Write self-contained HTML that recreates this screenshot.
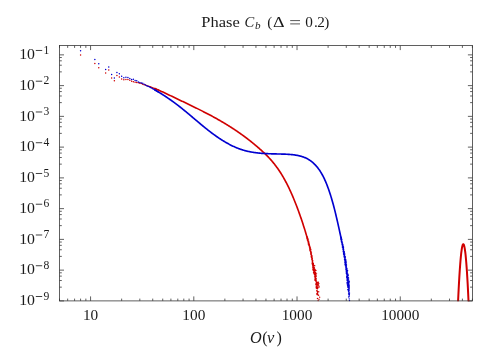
<!DOCTYPE html>
<html><head><meta charset="utf-8"><title>Phase Cb</title>
<style>html,body{margin:0;padding:0;background:#fff}svg{display:block;will-change:transform}text{font-family:"Liberation Serif",serif;fill:#1a1a1a}</style></head><body>
<svg width="500" height="350" viewBox="0 0 500 350">
<rect width="500" height="350" fill="#fff"/>
<path d="M59.50 300.9v-2.3M59.50 45.6v2.3M67.67 300.9v-2.3M67.67 45.6v2.3M74.58 300.9v-2.3M74.58 45.6v2.3M80.57 300.9v-2.3M80.57 45.6v2.3M85.85 300.9v-2.3M85.85 45.6v2.3M90.57 300.9v-4.5M90.57 45.6v4.5M121.65 300.9v-2.3M121.65 45.6v2.3M139.82 300.9v-2.3M139.82 45.6v2.3M152.72 300.9v-2.3M152.72 45.6v2.3M162.72 300.9v-2.3M162.72 45.6v2.3M170.90 300.9v-2.3M170.90 45.6v2.3M177.81 300.9v-2.3M177.81 45.6v2.3M183.80 300.9v-2.3M183.80 45.6v2.3M189.08 300.9v-2.3M189.08 45.6v2.3M193.80 300.9v-4.5M193.80 45.6v4.5M224.87 300.9v-2.3M224.87 45.6v2.3M243.05 300.9v-2.3M243.05 45.6v2.3M255.95 300.9v-2.3M255.95 45.6v2.3M265.95 300.9v-2.3M265.95 45.6v2.3M274.12 300.9v-2.3M274.12 45.6v2.3M281.03 300.9v-2.3M281.03 45.6v2.3M287.02 300.9v-2.3M287.02 45.6v2.3M292.30 300.9v-2.3M292.30 45.6v2.3M297.02 300.9v-4.5M297.02 45.6v4.5M328.10 300.9v-2.3M328.10 45.6v2.3M346.27 300.9v-2.3M346.27 45.6v2.3M359.17 300.9v-2.3M359.17 45.6v2.3M369.17 300.9v-2.3M369.17 45.6v2.3M377.35 300.9v-2.3M377.35 45.6v2.3M384.26 300.9v-2.3M384.26 45.6v2.3M390.25 300.9v-2.3M390.25 45.6v2.3M395.53 300.9v-2.3M395.53 45.6v2.3M400.25 300.9v-4.5M400.25 45.6v4.5M431.32 300.9v-2.3M431.32 45.6v2.3M449.50 300.9v-2.3M449.50 45.6v2.3M462.40 300.9v-2.3M462.40 45.6v2.3M472.40 300.9v-2.3M472.40 45.6v2.3M59.5 300.90h4.5M472.4 300.90h-4.5M59.5 287.15h2.3M472.4 287.15h-2.3M59.5 280.52h2.3M472.4 280.52h-2.3M59.5 276.11h2.3M472.4 276.11h-2.3M59.5 272.80h2.3M472.4 272.80h-2.3M59.5 270.14h4.5M472.4 270.14h-4.5M59.5 256.39h2.3M472.4 256.39h-2.3M59.5 249.76h2.3M472.4 249.76h-2.3M59.5 245.35h2.3M472.4 245.35h-2.3M59.5 242.04h2.3M472.4 242.04h-2.3M59.5 239.39h4.5M472.4 239.39h-4.5M59.5 225.64h2.3M472.4 225.64h-2.3M59.5 219.01h2.3M472.4 219.01h-2.3M59.5 214.60h2.3M472.4 214.60h-2.3M59.5 211.29h2.3M472.4 211.29h-2.3M59.5 208.63h4.5M472.4 208.63h-4.5M59.5 194.88h2.3M472.4 194.88h-2.3M59.5 188.25h2.3M472.4 188.25h-2.3M59.5 183.84h2.3M472.4 183.84h-2.3M59.5 180.53h2.3M472.4 180.53h-2.3M59.5 177.88h4.5M472.4 177.88h-4.5M59.5 164.13h2.3M472.4 164.13h-2.3M59.5 157.50h2.3M472.4 157.50h-2.3M59.5 153.08h2.3M472.4 153.08h-2.3M59.5 149.77h2.3M472.4 149.77h-2.3M59.5 147.12h4.5M472.4 147.12h-4.5M59.5 133.37h2.3M472.4 133.37h-2.3M59.5 126.74h2.3M472.4 126.74h-2.3M59.5 122.33h2.3M472.4 122.33h-2.3M59.5 119.02h2.3M472.4 119.02h-2.3M59.5 116.37h4.5M472.4 116.37h-4.5M59.5 102.62h2.3M472.4 102.62h-2.3M59.5 95.99h2.3M472.4 95.99h-2.3M59.5 91.57h2.3M472.4 91.57h-2.3M59.5 88.26h2.3M472.4 88.26h-2.3M59.5 85.61h4.5M472.4 85.61h-4.5M59.5 71.86h2.3M472.4 71.86h-2.3M59.5 65.23h2.3M472.4 65.23h-2.3M59.5 60.82h2.3M472.4 60.82h-2.3M59.5 57.51h2.3M472.4 57.51h-2.3M59.5 54.86h4.5M472.4 54.86h-4.5" stroke="#333" stroke-width="0.78" fill="none"/>
<clipPath id="cp"><rect x="59.5" y="45.6" width="412.90" height="255.70"/></clipPath>
<g>
<path d="M80.57 54.90h0M94.85 63.40h0M98.75 67.80h0M105.66 73.00h0M108.75 70.10h0M111.64 78.10h0M114.36 80.80h0M116.92 75.50h0M119.35 77.00h0M121.65 78.90h0M123.83 79.70h0M125.92 79.50h0M127.91 79.50h0M129.82 80.30h0M131.65 81.30h0M133.41 81.65h0M135.10 82.19h0M136.73 82.41h0M138.30 82.68h0M139.82 83.25h0M141.29 83.59h0M142.72 84.22h0M144.10 84.83h0M145.44 85.01h0M146.74 85.44h0M148.00 85.98h0M149.23 86.40h0M150.42 86.83h0M151.59 87.21h0M152.72 87.70h0M153.83 88.17h0M154.91 88.54h0M155.96 89.01h0M156.99 89.42h0M158.00 89.87h0" stroke="#d00000" stroke-width="1.5" stroke-linecap="round" fill="none"/>
<path d="M154.91 88.58 L155.41 88.79 L155.91 89.00 L156.41 89.21 L156.91 89.42 L157.41 89.64 L157.91 89.85 L158.41 90.07 L158.91 90.29 L159.41 90.51 L159.91 90.73 L160.41 90.95 L160.91 91.18 L161.41 91.40 L161.91 91.63 L162.41 91.86 L162.91 92.09 L163.41 92.32 L163.91 92.55 L164.41 92.78 L164.91 93.02 L165.41 93.25 L165.91 93.48 L166.41 93.72 L166.91 93.96 L167.41 94.19 L167.91 94.43 L168.41 94.67 L168.91 94.91 L169.41 95.15 L169.91 95.39 L170.41 95.63 L170.91 95.87 L171.41 96.11 L171.91 96.35 L172.41 96.59 L172.91 96.83 L173.41 97.07 L173.91 97.31 L174.41 97.55 L174.91 97.79 L175.41 98.03 L175.91 98.27 L176.41 98.51 L176.91 98.75 L177.41 98.99 L177.91 99.23 L178.41 99.46 L178.91 99.70 L179.41 99.94 L179.91 100.18 L180.41 100.42 L180.91 100.66 L181.41 100.90 L181.91 101.14 L182.41 101.38 L182.91 101.61 L183.41 101.85 L183.91 102.09 L184.41 102.33 L184.91 102.57 L185.41 102.81 L185.91 103.05 L186.41 103.29 L186.91 103.53 L187.41 103.77 L187.91 104.01 L188.41 104.25 L188.91 104.49 L189.41 104.73 L189.91 104.97 L190.41 105.21 L190.91 105.45 L191.41 105.70 L191.91 105.94 L192.41 106.18 L192.91 106.42 L193.41 106.67 L193.91 106.91 L194.41 107.16 L194.91 107.40 L195.41 107.65 L195.91 107.89 L196.41 108.14 L196.91 108.38 L197.41 108.63 L197.91 108.88 L198.41 109.13 L198.91 109.38 L199.41 109.63 L199.91 109.88 L200.41 110.13 L200.91 110.38 L201.41 110.63 L201.91 110.88 L202.41 111.13 L202.91 111.39 L203.41 111.64 L203.91 111.90 L204.41 112.15 L204.91 112.41 L205.41 112.67 L205.91 112.93 L206.41 113.19 L206.91 113.45 L207.41 113.71 L207.91 113.97 L208.41 114.23 L208.91 114.49 L209.41 114.76 L209.91 115.02 L210.41 115.29 L210.91 115.56 L211.41 115.83 L211.91 116.09 L212.41 116.36 L212.91 116.64 L213.41 116.91 L213.91 117.18 L214.41 117.46 L214.91 117.73 L215.41 118.01 L215.91 118.29 L216.41 118.56 L216.91 118.84 L217.41 119.13 L217.91 119.41 L218.41 119.69 L218.91 119.98 L219.41 120.26 L219.91 120.55 L220.41 120.84 L220.91 121.13 L221.41 121.42 L221.91 121.71 L222.41 122.01 L222.91 122.30 L223.41 122.60 L223.91 122.90 L224.41 123.20 L224.91 123.50 L225.41 123.80 L225.91 124.10 L226.41 124.41 L226.91 124.71 L227.41 125.02 L227.91 125.33 L228.41 125.64 L228.91 125.96 L229.41 126.27 L229.91 126.59 L230.41 126.90 L230.91 127.22 L231.41 127.54 L231.91 127.87 L232.41 128.19 L232.91 128.52 L233.41 128.84 L233.91 129.17 L234.41 129.50 L234.91 129.84 L235.41 130.17 L235.91 130.51 L236.41 130.85 L236.91 131.18 L237.41 131.53 L237.91 131.87 L238.41 132.22 L238.91 132.56 L239.41 132.91 L239.91 133.26 L240.41 133.62 L240.91 133.97 L241.41 134.33 L241.91 134.69 L242.41 135.05 L242.91 135.41 L243.41 135.78 L243.91 136.14 L244.41 136.51 L244.91 136.88 L245.41 137.26 L245.91 137.63 L246.41 138.01 L246.91 138.39 L247.41 138.77 L247.91 139.16 L248.41 139.54 L248.91 139.93 L249.41 140.32 L249.91 140.71 L250.41 141.11 L250.91 141.51 L251.41 141.91 L251.91 142.31 L252.41 142.71 L252.91 143.12 L253.41 143.53 L253.91 143.94 L254.41 144.35 L254.91 144.77 L255.41 145.19 L255.91 145.61 L256.41 146.03 L256.91 146.46 L257.41 146.89 L257.91 147.32 L258.41 147.75 L258.91 148.19 L259.41 148.63 L259.91 149.07 L260.41 149.51 L260.91 149.96 L261.41 150.41 L261.91 150.86 L262.41 151.32 L262.91 151.78 L263.41 152.25 L263.91 152.72 L264.41 153.19 L264.91 153.67 L265.41 154.15 L265.91 154.64 L266.41 155.14 L266.91 155.64 L267.41 156.15 L267.91 156.67 L268.41 157.19 L268.91 157.72 L269.41 158.26 L269.91 158.80 L270.41 159.35 L270.91 159.91 L271.41 160.48 L271.91 161.06 L272.41 161.65 L272.91 162.25 L273.41 162.85 L273.91 163.47 L274.41 164.10 L274.91 164.74 L275.41 165.39 L275.91 166.05 L276.41 166.72 L276.91 167.40 L277.41 168.09 L277.91 168.80 L278.41 169.52 L278.91 170.25 L279.41 171.00 L279.91 171.76 L280.41 172.53 L280.91 173.31 L281.41 174.11 L281.91 174.93 L282.41 175.76 L282.91 176.60 L283.41 177.46 L283.91 178.34 L284.41 179.23 L284.91 180.13 L285.41 181.06 L285.91 181.99 L286.41 182.95 L286.91 183.92 L287.41 184.91 L287.91 185.91 L288.41 186.93 L288.91 187.96 L289.41 189.02 L289.91 190.08 L290.41 191.17 L290.91 192.27 L291.41 193.39 L291.91 194.52 L292.41 195.68 L292.91 196.84 L293.41 198.03 L293.91 199.23 L294.41 200.45 L294.91 201.69 L295.41 202.94 L295.91 204.21 L296.41 205.50 L296.91 206.81 L297.41 208.13 L297.91 209.47 L298.41 210.83 L298.91 212.20 L299.41 213.60 L299.91 215.01 L300.41 216.43 L300.91 217.88 L301.41 219.34 L301.91 220.83 L302.41 222.33 L302.91 223.84 L303.41 225.38 L303.91 226.94 L304.41 228.52 L304.91 230.13 L305.41 231.76 L305.91 233.43 L306.41 235.14 L306.91 236.88 L307.41 238.67" stroke="#d00000" stroke-width="1.65" stroke-linecap="round" stroke-linejoin="round" fill="none"/>
<path d="M457.80 307.41 L457.94 304.25 L458.08 301.17 L458.22 298.18 L458.36 295.26 L458.50 292.42 L458.64 289.67 L458.77 286.99 L458.91 284.40 L459.05 281.89 L459.19 279.46 L459.33 277.11 L459.47 274.84 L459.61 272.65 L459.75 270.54 L459.89 268.52 L460.03 266.57 L460.17 264.71 L460.31 262.93 L460.45 261.23 L460.58 259.61 L460.72 258.07 L460.86 256.61 L461.00 255.23 L461.14 253.93 L461.28 252.72 L461.42 251.58 L461.56 250.53 L461.70 249.56 L461.84 248.67 L461.98 247.86 L462.12 247.13 L462.26 246.48 L462.39 245.91 L462.53 245.43 L462.67 245.02 L462.81 244.70 L462.95 244.45 L463.09 244.29 L463.23 244.21 L463.37 244.21 L463.51 244.29 L463.65 244.45 L463.79 244.70 L463.93 245.02 L464.07 245.43 L464.21 245.91 L464.34 246.48 L464.48 247.13 L464.62 247.86 L464.76 248.67 L464.90 249.56 L465.04 250.53 L465.18 251.58 L465.32 252.72 L465.46 253.93 L465.60 255.23 L465.74 256.61 L465.88 258.07 L466.02 259.61 L466.15 261.23 L466.29 262.93 L466.43 264.71 L466.57 266.57 L466.71 268.52 L466.85 270.54 L466.99 272.65 L467.13 274.84 L467.27 277.11 L467.41 279.46 L467.55 281.89 L467.69 284.40 L467.83 286.99 L467.96 289.67 L468.10 292.42 L468.24 295.26 L468.38 298.18 L468.52 301.17 L468.66 304.25 L468.80 307.41" stroke="#d00000" stroke-width="2.0" stroke-linecap="butt" stroke-linejoin="round" fill="none" clip-path="url(#cp)"/>
<path d="M80.57 50.70h0M94.85 59.50h0M98.75 63.80h0M105.66 69.60h0M108.75 66.90h0M111.64 74.40h0M114.36 77.90h0M116.92 72.60h0M119.35 73.80h0M121.65 76.20h0M123.83 77.80h0M125.92 77.30h0M127.91 77.60h0M129.82 78.40h0M131.65 79.50h0M133.41 79.21h0M135.10 80.56h0M136.73 80.87h0M138.30 81.97h0M139.82 82.56h0M141.29 83.12h0M142.72 83.37h0M144.10 84.34h0M145.44 85.03h0M146.74 85.67h0M148.00 86.16h0M149.23 86.87h0M150.42 87.46h0M151.59 88.10h0M152.72 88.79h0M153.83 89.33h0M154.91 89.96h0M155.96 90.58h0M156.99 91.14h0M158.00 91.75h0" stroke="#0000d0" stroke-width="1.5" stroke-linecap="round" fill="none"/>
<path d="M154.91 89.96 L155.41 90.24 L155.91 90.53 L156.41 90.82 L156.91 91.11 L157.41 91.40 L157.91 91.69 L158.41 91.99 L158.91 92.29 L159.41 92.59 L159.91 92.90 L160.41 93.20 L160.91 93.51 L161.41 93.82 L161.91 94.13 L162.41 94.45 L162.91 94.77 L163.41 95.09 L163.91 95.41 L164.41 95.73 L164.91 96.06 L165.41 96.39 L165.91 96.72 L166.41 97.05 L166.91 97.39 L167.41 97.73 L167.91 98.07 L168.41 98.41 L168.91 98.75 L169.41 99.10 L169.91 99.45 L170.41 99.80 L170.91 100.15 L171.41 100.51 L171.91 100.86 L172.41 101.22 L172.91 101.59 L173.41 101.95 L173.91 102.32 L174.41 102.68 L174.91 103.05 L175.41 103.43 L175.91 103.80 L176.41 104.18 L176.91 104.56 L177.41 104.94 L177.91 105.32 L178.41 105.71 L178.91 106.10 L179.41 106.49 L179.91 106.88 L180.41 107.27 L180.91 107.67 L181.41 108.07 L181.91 108.47 L182.41 108.87 L182.91 109.27 L183.41 109.68 L183.91 110.09 L184.41 110.49 L184.91 110.90 L185.41 111.32 L185.91 111.73 L186.41 112.14 L186.91 112.56 L187.41 112.97 L187.91 113.39 L188.41 113.81 L188.91 114.23 L189.41 114.65 L189.91 115.07 L190.41 115.49 L190.91 115.91 L191.41 116.33 L191.91 116.75 L192.41 117.18 L192.91 117.60 L193.41 118.02 L193.91 118.44 L194.41 118.87 L194.91 119.29 L195.41 119.71 L195.91 120.14 L196.41 120.56 L196.91 120.98 L197.41 121.40 L197.91 121.82 L198.41 122.24 L198.91 122.66 L199.41 123.08 L199.91 123.50 L200.41 123.92 L200.91 124.33 L201.41 124.75 L201.91 125.16 L202.41 125.58 L202.91 125.99 L203.41 126.40 L203.91 126.81 L204.41 127.22 L204.91 127.62 L205.41 128.03 L205.91 128.43 L206.41 128.83 L206.91 129.23 L207.41 129.62 L207.91 130.02 L208.41 130.41 L208.91 130.80 L209.41 131.19 L209.91 131.58 L210.41 131.96 L210.91 132.34 L211.41 132.72 L211.91 133.09 L212.41 133.47 L212.91 133.84 L213.41 134.21 L213.91 134.57 L214.41 134.93 L214.91 135.29 L215.41 135.65 L215.91 136.01 L216.41 136.36 L216.91 136.71 L217.41 137.05 L217.91 137.39 L218.41 137.73 L218.91 138.07 L219.41 138.41 L219.91 138.74 L220.41 139.06 L220.91 139.39 L221.41 139.71 L221.91 140.03 L222.41 140.34 L222.91 140.65 L223.41 140.96 L223.91 141.27 L224.41 141.57 L224.91 141.87 L225.41 142.16 L225.91 142.45 L226.41 142.74 L226.91 143.02 L227.41 143.30 L227.91 143.58 L228.41 143.85 L228.91 144.12 L229.41 144.39 L229.91 144.65 L230.41 144.91 L230.91 145.16 L231.41 145.41 L231.91 145.66 L232.41 145.90 L232.91 146.14 L233.41 146.38 L233.91 146.61 L234.41 146.83 L234.91 147.06 L235.41 147.27 L235.91 147.49 L236.41 147.70 L236.91 147.90 L237.41 148.10 L237.91 148.30 L238.41 148.49 L238.91 148.68 L239.41 148.87 L239.91 149.05 L240.41 149.22 L240.91 149.39 L241.41 149.56 L241.91 149.72 L242.41 149.88 L242.91 150.03 L243.41 150.18 L243.91 150.32 L244.41 150.46 L244.91 150.60 L245.41 150.73 L245.91 150.86 L246.41 150.99 L246.91 151.11 L247.41 151.23 L247.91 151.34 L248.41 151.46 L248.91 151.56 L249.41 151.67 L249.91 151.77 L250.41 151.87 L250.91 151.96 L251.41 152.05 L251.91 152.14 L252.41 152.22 L252.91 152.31 L253.41 152.39 L253.91 152.46 L254.41 152.54 L254.91 152.61 L255.41 152.67 L255.91 152.74 L256.41 152.80 L256.91 152.86 L257.41 152.92 L257.91 152.98 L258.41 153.03 L258.91 153.08 L259.41 153.13 L259.91 153.18 L260.41 153.22 L260.91 153.27 L261.41 153.31 L261.91 153.35 L262.41 153.38 L262.91 153.42 L263.41 153.45 L263.91 153.48 L264.41 153.51 L264.91 153.54 L265.41 153.57 L265.91 153.60 L266.41 153.62 L266.91 153.65 L267.41 153.67 L267.91 153.69 L268.41 153.71 L268.91 153.73 L269.41 153.75 L269.91 153.76 L270.41 153.78 L270.91 153.80 L271.41 153.81 L271.91 153.83 L272.41 153.84 L272.91 153.85 L273.41 153.87 L273.91 153.88 L274.41 153.89 L274.91 153.90 L275.41 153.91 L275.91 153.93 L276.41 153.94 L276.91 153.95 L277.41 153.96 L277.91 153.97 L278.41 153.98 L278.91 153.99 L279.41 154.01 L279.91 154.02 L280.41 154.03 L280.91 154.04 L281.41 154.06 L281.91 154.07 L282.41 154.09 L282.91 154.10 L283.41 154.12 L283.91 154.14 L284.41 154.15 L284.91 154.17 L285.41 154.19 L285.91 154.21 L286.41 154.24 L286.91 154.26 L287.41 154.29 L287.91 154.31 L288.41 154.34 L288.91 154.37 L289.41 154.41 L289.91 154.45 L290.41 154.48 L290.91 154.53 L291.41 154.57 L291.91 154.62 L292.41 154.67 L292.91 154.73 L293.41 154.79 L293.91 154.85 L294.41 154.92 L294.91 154.99 L295.41 155.07 L295.91 155.15 L296.41 155.23 L296.91 155.32 L297.41 155.42 L297.91 155.52 L298.41 155.62 L298.91 155.74 L299.41 155.85 L299.91 155.98 L300.41 156.11 L300.91 156.24 L301.41 156.39 L301.91 156.54 L302.41 156.70 L302.91 156.86 L303.41 157.04 L303.91 157.23 L304.41 157.42 L304.91 157.63 L305.41 157.84 L305.91 158.07 L306.41 158.31 L306.91 158.56 L307.41 158.82 L307.91 159.09 L308.41 159.38 L308.91 159.69 L309.41 160.00 L309.91 160.33 L310.41 160.68 L310.91 161.04 L311.41 161.42 L311.91 161.82 L312.41 162.23 L312.91 162.66 L313.41 163.10 L313.91 163.57 L314.41 164.05 L314.91 164.55 L315.41 165.08 L315.91 165.62 L316.41 166.18 L316.91 166.77 L317.41 167.38 L317.91 168.02 L318.41 168.68 L318.91 169.37 L319.41 170.08 L319.91 170.82 L320.41 171.60 L320.91 172.40 L321.41 173.23 L321.91 174.10 L322.41 175.00 L322.91 175.94 L323.41 176.91 L323.91 177.92 L324.41 178.96 L324.91 180.05 L325.41 181.17 L325.91 182.34 L326.41 183.54 L326.91 184.79 L327.41 186.08 L327.91 187.42 L328.41 188.80 L328.91 190.22 L329.41 191.69 L329.91 193.20 L330.41 194.76 L330.91 196.37 L331.41 198.02 L331.91 199.71 L332.41 201.46 L332.91 203.25 L333.41 205.08 L333.91 206.97 L334.41 208.90 L334.91 210.88 L335.41 212.91 L335.91 214.98 L336.41 217.09 L336.91 219.25 L337.41 221.43 L337.91 223.65 L338.41 225.89 L338.91 228.15 L339.41 230.43 L339.91 232.72 L340.41 235.03 L340.91 237.37 L341.41 239.75" stroke="#0000d0" stroke-width="1.65" stroke-linecap="round" stroke-linejoin="round" fill="none"/>
<path d="M307.21 237.99h0M307.24 238.13h0M307.28 236.95h0M307.31 238.42h0M307.35 240.08h0M307.38 237.60h0M307.42 239.18h0M307.46 239.40h0M307.49 239.52h0M307.53 238.53h0M307.56 238.83h0M307.60 238.35h0M307.63 239.32h0M307.67 240.59h0M307.70 239.06h0M307.74 238.16h0M307.77 239.92h0M307.81 240.73h0M307.84 239.94h0M307.88 241.72h0M307.92 240.25h0M307.95 240.54h0M307.99 239.79h0M308.02 240.51h0M308.06 241.63h0M308.09 241.78h0M308.13 242.26h0M308.16 241.97h0M308.20 241.88h0M308.23 239.82h0M308.27 241.00h0M308.30 244.05h0M308.34 241.51h0M308.37 242.69h0M308.40 242.16h0M308.44 242.98h0M308.47 242.55h0M308.51 241.75h0M308.54 242.06h0M308.58 243.21h0M308.61 242.58h0M308.65 241.34h0M308.68 243.78h0M308.72 244.39h0M308.75 244.44h0M308.79 244.60h0M308.82 242.42h0M308.85 245.55h0M308.89 243.95h0M308.92 243.37h0M308.96 243.95h0M308.99 243.82h0M309.03 243.45h0M309.06 244.75h0M309.09 245.06h0M309.13 244.84h0M309.16 245.33h0M309.20 245.14h0M309.23 244.73h0M309.27 245.01h0M309.30 246.23h0M309.33 244.43h0M309.37 245.46h0M309.40 247.09h0M309.44 246.50h0M309.47 247.06h0M309.50 246.54h0M309.54 245.48h0M309.57 246.41h0M309.61 247.08h0M309.64 246.68h0M309.67 247.06h0M309.71 247.57h0M309.74 248.47h0M309.77 247.17h0M309.81 249.07h0M309.84 247.94h0M309.88 249.17h0M309.91 249.48h0M309.94 250.34h0M309.98 249.71h0M310.01 249.87h0M310.04 250.76h0M310.08 247.06h0M310.11 248.02h0M310.14 250.43h0M310.18 246.94h0M310.21 249.75h0M310.24 249.89h0M310.28 248.08h0M310.31 248.90h0M310.34 250.92h0M310.38 250.94h0M310.41 249.73h0M310.44 249.58h0M310.48 249.86h0M310.51 251.47h0M310.54 249.35h0M310.58 251.21h0M310.61 249.55h0M310.64 252.62h0M310.68 251.89h0M310.71 253.50h0M310.74 249.10h0M310.78 249.56h0M310.81 251.46h0M310.84 254.41h0M310.87 251.09h0M310.91 254.46h0M310.94 253.11h0M310.97 253.26h0M311.01 254.15h0M311.04 252.03h0M311.07 252.71h0M311.10 252.01h0M311.14 254.01h0M311.17 256.72h0M311.20 253.68h0M311.23 255.10h0M311.27 255.08h0M311.30 255.00h0M311.33 254.64h0M311.37 257.04h0M311.40 255.39h0M311.43 254.72h0M311.46 252.93h0M311.50 257.45h0M311.53 257.18h0M311.56 256.65h0M311.59 256.16h0M311.62 259.11h0M311.66 256.77h0M311.69 256.01h0M311.72 258.07h0M311.75 256.86h0M311.79 257.51h0M311.82 257.16h0M311.85 257.64h0M311.88 255.49h0M311.92 256.94h0M311.95 257.28h0M311.98 256.42h0M312.01 258.47h0M312.04 259.57h0M312.08 257.66h0M312.11 263.28h0M312.14 259.49h0M312.17 260.66h0M312.20 258.25h0M312.24 258.82h0M312.27 263.59h0M312.30 261.99h0M312.33 260.79h0M312.36 258.78h0M312.40 264.48h0M312.43 259.99h0M312.46 261.06h0M312.49 261.87h0M312.52 263.10h0M312.55 262.64h0M312.59 262.78h0M312.62 267.02h0M312.65 263.52h0M312.68 264.44h0M312.71 260.88h0M312.74 265.57h0M312.78 260.63h0M312.81 263.05h0M312.84 269.66h0M312.87 263.25h0M312.90 265.06h0M312.93 262.83h0M312.96 263.03h0M313.00 268.25h0M313.03 264.97h0M313.06 265.96h0M313.09 265.69h0M313.12 263.31h0M313.15 266.45h0M313.18 269.50h0M313.21 265.43h0M313.25 268.47h0M313.28 270.23h0M313.31 264.94h0M313.34 270.11h0M313.37 263.58h0M313.40 270.01h0M313.43 267.72h0M313.46 266.01h0M313.50 268.62h0M313.53 267.58h0M313.56 265.08h0M313.59 272.17h0M313.62 272.60h0M313.65 267.18h0M313.68 268.89h0M313.71 268.84h0M313.74 269.62h0M313.77 267.10h0M313.80 273.17h0M313.84 270.92h0M313.87 268.37h0M313.90 269.78h0M313.93 269.19h0M313.96 270.88h0M313.99 273.32h0M314.02 273.52h0M314.05 268.85h0M314.08 272.24h0M314.11 269.61h0M314.14 267.37h0M314.17 269.35h0M314.20 272.46h0M314.23 268.28h0M314.26 270.70h0M314.30 274.17h0M314.33 271.01h0M314.36 271.03h0M314.39 270.49h0M314.42 267.99h0M314.45 272.70h0M314.48 273.71h0M314.51 274.08h0M314.54 270.85h0M314.57 271.04h0M314.60 276.64h0M314.63 271.42h0M314.66 273.43h0M314.69 265.76h0M314.72 271.38h0M314.75 271.48h0M314.78 270.21h0M314.81 279.63h0M314.84 273.99h0M314.87 269.25h0M314.90 275.43h0M314.93 275.35h0M314.96 275.56h0M314.99 280.18h0M315.05 273.59h0M315.08 274.24h0M315.11 276.21h0M315.14 278.59h0M315.17 277.51h0M315.20 274.30h0M315.26 275.15h0M315.29 277.16h0M315.32 277.54h0M315.35 275.28h0M315.38 270.26h0M315.41 278.24h0M315.44 276.33h0M315.47 274.48h0M315.50 276.13h0M315.53 273.90h0M315.56 278.92h0M315.59 276.93h0M315.62 272.56h0M315.65 279.72h0M315.68 280.39h0M315.77 281.04h0M315.79 273.81h0M315.82 284.19h0M315.91 283.85h0M315.94 270.44h0M316.03 278.31h0M316.06 279.52h0M316.12 287.82h0M316.15 280.53h0M316.18 278.84h0M316.21 283.51h0M316.23 286.20h0M316.26 282.00h0M316.29 284.88h0M316.32 284.29h0M316.35 284.34h0M316.38 275.90h0M316.41 282.93h0M316.47 281.96h0M316.53 273.87h0M316.55 288.23h0M316.58 281.65h0M316.61 288.07h0M316.64 284.23h0M316.67 288.20h0M316.73 286.94h0M316.79 283.31h0M316.82 290.53h0M316.87 286.35h0M316.90 293.51h0M316.93 294.43h0M316.99 286.49h0M317.07 283.40h0M317.10 284.94h0M317.16 291.55h0M317.19 286.54h0M317.22 288.03h0M317.25 284.54h0M317.27 290.94h0M317.36 285.20h0M317.39 288.67h0M317.42 292.15h0M317.44 287.42h0M317.47 298.49h0M317.56 293.29h0M317.59 291.41h0M317.62 293.08h0M317.67 282.51h0M317.73 288.35h0M317.76 294.67h0M317.78 291.36h0M318.04 284.22h0M318.15 300.60h0M318.40 282.20h0M318.51 284.94h0M318.57 295.30h0M318.79 291.85h0M318.87 283.35h0M318.90 287.32h0M318.98 299.15h0M319.04 286.26h0M319.64 297.13h0" stroke="#d00000" stroke-width="1.45" stroke-linecap="round" fill="none"/>
<path d="M341.03 238.21h0M341.05 237.88h0M341.07 237.51h0M341.08 237.22h0M341.10 237.76h0M341.12 238.32h0M341.13 239.01h0M341.15 238.81h0M341.17 239.12h0M341.18 239.69h0M341.20 239.08h0M341.22 237.63h0M341.23 238.70h0M341.25 237.87h0M341.27 239.16h0M341.28 237.73h0M341.30 239.16h0M341.32 239.39h0M341.33 239.86h0M341.35 239.44h0M341.37 241.74h0M341.39 239.24h0M341.40 240.39h0M341.42 239.38h0M341.43 239.04h0M341.45 239.55h0M341.47 238.79h0M341.48 240.25h0M341.50 238.65h0M341.52 240.98h0M341.53 240.29h0M341.55 240.99h0M341.57 239.49h0M341.58 241.88h0M341.60 241.71h0M341.62 241.59h0M341.63 240.70h0M341.65 241.61h0M341.67 240.93h0M341.68 242.17h0M341.70 239.59h0M341.72 241.26h0M341.73 242.52h0M341.75 242.15h0M341.77 242.28h0M341.78 242.27h0M341.80 241.79h0M341.82 240.87h0M341.83 242.24h0M341.85 241.49h0M341.87 241.71h0M341.88 241.93h0M341.90 242.11h0M341.92 241.31h0M341.93 242.92h0M341.95 242.55h0M341.96 243.53h0M341.98 244.46h0M342.00 243.33h0M342.01 242.80h0M342.03 241.52h0M342.05 242.82h0M342.06 243.13h0M342.08 243.30h0M342.10 243.15h0M342.11 242.68h0M342.13 244.15h0M342.15 243.50h0M342.16 244.46h0M342.18 242.82h0M342.19 243.91h0M342.21 244.86h0M342.23 244.95h0M342.24 242.75h0M342.26 243.83h0M342.28 243.65h0M342.29 245.29h0M342.31 244.59h0M342.33 243.61h0M342.34 244.31h0M342.36 243.92h0M342.37 244.54h0M342.39 244.15h0M342.41 244.89h0M342.42 246.00h0M342.44 247.19h0M342.46 245.76h0M342.47 246.94h0M342.49 243.05h0M342.50 245.87h0M342.52 246.03h0M342.54 245.82h0M342.55 245.34h0M342.57 243.11h0M342.59 244.49h0M342.60 245.43h0M342.62 246.15h0M342.63 244.86h0M342.65 245.89h0M342.67 245.84h0M342.68 245.94h0M342.70 246.19h0M342.71 246.88h0M342.73 245.97h0M342.75 246.25h0M342.76 245.52h0M342.78 246.15h0M342.80 245.76h0M342.81 247.20h0M342.83 249.10h0M342.84 248.92h0M342.86 246.27h0M342.88 247.59h0M342.89 247.24h0M342.91 245.22h0M342.92 244.83h0M342.94 246.61h0M342.96 247.28h0M342.97 245.97h0M342.99 246.47h0M343.01 246.67h0M343.02 246.64h0M343.04 246.36h0M343.05 247.67h0M343.07 248.79h0M343.09 248.44h0M343.10 247.15h0M343.12 248.09h0M343.13 248.42h0M343.15 246.20h0M343.17 249.70h0M343.18 247.78h0M343.20 247.16h0M343.21 251.84h0M343.23 247.65h0M343.25 248.59h0M343.26 248.16h0M343.28 250.33h0M343.29 248.88h0M343.31 247.52h0M343.33 246.76h0M343.34 248.82h0M343.36 252.01h0M343.37 248.34h0M343.39 251.31h0M343.41 248.76h0M343.42 248.02h0M343.44 247.09h0M343.45 249.87h0M343.47 250.51h0M343.48 250.12h0M343.50 247.74h0M343.52 249.65h0M343.53 250.94h0M343.55 249.92h0M343.56 251.29h0M343.58 253.57h0M343.60 249.10h0M343.61 254.38h0M343.63 249.63h0M343.64 251.01h0M343.66 251.09h0M343.68 252.45h0M343.69 250.96h0M343.71 251.57h0M343.72 251.49h0M343.74 252.31h0M343.75 252.39h0M343.77 251.83h0M343.79 253.12h0M343.80 254.01h0M343.82 251.25h0M343.83 251.43h0M343.85 251.46h0M343.86 251.46h0M343.88 251.62h0M343.90 252.67h0M343.91 253.72h0M343.93 251.84h0M343.94 253.45h0M343.96 252.37h0M343.98 256.65h0M343.99 253.47h0M344.01 254.24h0M344.02 251.94h0M344.04 252.19h0M344.05 253.78h0M344.07 252.50h0M344.09 253.59h0M344.10 255.44h0M344.12 252.81h0M344.13 252.75h0M344.15 254.26h0M344.16 253.74h0M344.18 255.13h0M344.19 254.11h0M344.21 252.85h0M344.23 251.39h0M344.24 255.09h0M344.26 253.64h0M344.27 254.94h0M344.29 252.19h0M344.30 253.83h0M344.32 255.58h0M344.34 256.70h0M344.35 256.84h0M344.37 257.27h0M344.38 255.38h0M344.40 256.99h0M344.41 256.12h0M344.43 255.32h0M344.44 255.08h0M344.46 254.68h0M344.48 257.59h0M344.49 256.15h0M344.51 255.05h0M344.52 256.07h0M344.54 259.38h0M344.55 254.25h0M344.57 254.40h0M344.58 258.97h0M344.60 254.47h0M344.62 259.11h0M344.63 256.03h0M344.65 257.71h0M344.66 259.29h0M344.68 259.40h0M344.69 258.63h0M344.71 257.41h0M344.72 257.09h0M344.74 257.22h0M344.75 260.37h0M344.77 258.40h0M344.79 259.93h0M344.80 254.02h0M344.82 257.54h0M344.83 258.76h0M344.85 257.68h0M344.86 262.13h0M344.88 256.57h0M344.89 259.56h0M344.91 260.30h0M344.92 257.39h0M344.94 260.48h0M344.96 259.80h0M344.97 264.34h0M344.99 261.89h0M345.00 259.29h0M345.02 261.23h0M345.03 260.31h0M345.05 258.84h0M345.06 260.98h0M345.08 260.78h0M345.09 262.90h0M345.11 257.49h0M345.12 257.67h0M345.14 258.85h0M345.15 261.62h0M345.17 262.51h0M345.19 260.36h0M345.20 261.17h0M345.22 260.88h0M345.23 257.81h0M345.25 259.41h0M345.26 262.85h0M345.28 262.83h0M345.29 263.59h0M345.31 262.76h0M345.32 256.64h0M345.34 262.19h0M345.35 262.43h0M345.37 259.19h0M345.38 265.64h0M345.40 261.74h0M345.41 264.04h0M345.43 263.82h0M345.45 263.58h0M345.46 265.29h0M345.48 262.28h0M345.49 264.60h0M345.51 263.70h0M345.52 260.39h0M345.54 261.67h0M345.55 260.62h0M345.57 259.51h0M345.58 260.05h0M345.60 264.40h0M345.61 260.52h0M345.63 265.68h0M345.64 263.18h0M345.66 263.26h0M345.67 261.29h0M345.69 264.85h0M345.70 262.19h0M345.72 265.65h0M345.73 265.86h0M345.75 260.75h0M345.76 265.64h0M345.78 260.16h0M345.79 266.61h0M345.81 260.23h0M345.82 262.67h0M345.84 268.03h0M345.85 265.72h0M345.87 266.90h0M345.88 259.93h0M345.90 267.32h0M345.91 263.76h0M345.93 269.56h0M345.94 266.00h0M345.96 265.75h0M345.97 262.34h0M345.99 264.08h0M346.00 266.24h0M346.02 269.64h0M346.03 269.55h0M346.05 266.03h0M346.06 264.00h0M346.08 263.91h0M346.09 271.06h0M346.11 267.82h0M346.12 264.62h0M346.14 271.02h0M346.15 268.78h0M346.17 269.44h0M346.18 269.80h0M346.20 268.64h0M346.21 266.63h0M346.23 263.91h0M346.24 264.75h0M346.26 266.01h0M346.27 269.66h0M346.29 266.58h0M346.30 270.64h0M346.32 271.03h0M346.33 272.72h0M346.35 272.94h0M346.36 262.04h0M346.38 273.41h0M346.39 269.88h0M346.41 269.82h0M346.42 267.88h0M346.44 270.37h0M346.45 270.11h0M346.47 268.12h0M346.48 265.02h0M346.50 273.81h0M346.51 271.79h0M346.53 267.66h0M346.54 269.20h0M346.56 272.77h0M346.57 269.25h0M346.59 271.73h0M346.60 273.91h0M346.62 273.52h0M346.63 270.82h0M346.65 268.88h0M346.66 270.43h0M346.68 273.76h0M346.69 271.21h0M346.71 276.58h0M346.72 277.13h0M346.74 276.41h0M346.75 274.32h0M346.77 268.81h0M346.78 277.43h0M346.79 274.84h0M346.81 270.75h0M346.82 270.22h0M346.84 271.08h0M346.85 273.52h0M346.87 268.85h0M346.88 276.87h0M346.90 272.33h0M346.91 275.26h0M346.93 268.43h0M346.94 282.94h0M346.96 277.05h0M346.97 273.68h0M346.99 270.39h0M347.00 278.95h0M347.02 273.05h0M347.03 273.08h0M347.05 271.69h0M347.06 270.67h0M347.07 274.53h0M347.09 274.97h0M347.10 273.64h0M347.12 271.52h0M347.13 280.16h0M347.15 280.64h0M347.16 272.63h0M347.18 279.87h0M347.19 275.84h0M347.21 275.57h0M347.22 282.70h0M347.24 282.49h0M347.25 274.67h0M347.26 278.67h0M347.28 274.23h0M347.29 270.82h0M347.31 279.62h0M347.32 278.25h0M347.34 279.36h0M347.35 284.77h0M347.37 276.02h0M347.38 278.88h0M347.40 277.80h0M347.41 270.51h0M347.43 276.74h0M347.44 271.86h0M347.45 277.87h0M347.47 273.94h0M347.48 273.74h0M347.50 283.26h0M347.51 276.59h0M347.53 277.18h0M347.54 279.59h0M347.56 270.49h0M347.57 275.15h0M347.59 275.84h0M347.60 280.40h0M347.61 279.83h0M347.63 276.65h0M347.64 285.99h0M347.66 277.23h0M347.67 276.34h0M347.69 281.04h0M347.72 279.38h0M347.73 278.35h0M347.77 278.63h0M347.79 279.20h0M347.80 278.70h0M347.82 283.71h0M347.83 289.50h0M347.85 287.19h0M347.86 283.90h0M347.87 281.04h0M347.89 280.68h0M347.92 280.32h0M347.93 280.98h0M347.95 283.88h0M347.96 278.38h0M347.98 283.03h0M347.99 280.10h0M348.00 282.41h0M348.02 278.25h0M348.03 286.54h0M348.05 286.41h0M348.06 275.63h0M348.08 281.48h0M348.09 281.13h0M348.10 274.11h0M348.12 277.36h0M348.13 281.92h0M348.15 277.76h0M348.16 283.95h0M348.18 286.66h0M348.21 280.18h0M348.22 275.18h0M348.25 281.12h0M348.26 289.63h0M348.28 289.87h0M348.29 290.84h0M348.31 284.75h0M348.32 286.11h0M348.39 289.08h0M348.40 287.41h0M348.43 289.48h0M348.45 286.87h0M348.46 289.86h0M348.49 277.62h0M348.53 282.48h0M348.56 283.17h0M348.60 293.90h0M348.63 279.01h0M348.65 293.91h0M348.67 283.78h0M348.69 281.14h0M348.72 285.12h0M348.75 285.50h0M348.77 291.84h0M348.80 296.99h0M348.82 285.28h0M348.83 290.45h0M348.84 287.67h0M348.86 291.56h0M348.89 294.15h0M348.90 292.57h0M348.92 292.98h0M348.93 287.36h0M348.96 284.59h0M348.97 296.80h0M349.06 293.76h0M349.07 296.17h0M349.08 285.39h0M349.11 282.72h0M349.13 286.91h0M349.18 298.85h0M349.21 288.08h0M349.24 295.09h0M349.27 288.17h0M349.28 285.96h0M349.32 290.02h0M349.34 294.49h0M349.36 281.18h0M349.39 293.87h0M349.45 292.98h0M349.49 300.58h0" stroke="#0000d0" stroke-width="1.45" stroke-linecap="round" fill="none"/>
</g>
<rect x="59.5" y="45.6" width="412.90" height="255.30" fill="none" stroke="#333" stroke-width="0.78"/>
<g>
<text x="19.2" y="305.20" font-size="15.0" textLength="15.8" lengthAdjust="spacingAndGlyphs">10</text>
<path d="M35.8 296.50h6.4" stroke="#000" stroke-width="0.75"/>
<text x="43.4" y="299.70" font-size="11.6">9</text>
<text x="19.2" y="274.44" font-size="15.0" textLength="15.8" lengthAdjust="spacingAndGlyphs">10</text>
<path d="M35.8 265.74h6.4" stroke="#000" stroke-width="0.75"/>
<text x="43.4" y="268.94" font-size="11.6">8</text>
<text x="19.2" y="243.69" font-size="15.0" textLength="15.8" lengthAdjust="spacingAndGlyphs">10</text>
<path d="M35.8 234.99h6.4" stroke="#000" stroke-width="0.75"/>
<text x="43.4" y="238.19" font-size="11.6">7</text>
<text x="19.2" y="212.93" font-size="15.0" textLength="15.8" lengthAdjust="spacingAndGlyphs">10</text>
<path d="M35.8 204.23h6.4" stroke="#000" stroke-width="0.75"/>
<text x="43.4" y="207.43" font-size="11.6">6</text>
<text x="19.2" y="182.18" font-size="15.0" textLength="15.8" lengthAdjust="spacingAndGlyphs">10</text>
<path d="M35.8 173.48h6.4" stroke="#000" stroke-width="0.75"/>
<text x="43.4" y="176.68" font-size="11.6">5</text>
<text x="19.2" y="151.42" font-size="15.0" textLength="15.8" lengthAdjust="spacingAndGlyphs">10</text>
<path d="M35.8 142.72h6.4" stroke="#000" stroke-width="0.75"/>
<text x="43.4" y="145.92" font-size="11.6">4</text>
<text x="19.2" y="120.67" font-size="15.0" textLength="15.8" lengthAdjust="spacingAndGlyphs">10</text>
<path d="M35.8 111.97h6.4" stroke="#000" stroke-width="0.75"/>
<text x="43.4" y="115.17" font-size="11.6">3</text>
<text x="19.2" y="89.91" font-size="15.0" textLength="15.8" lengthAdjust="spacingAndGlyphs">10</text>
<path d="M35.8 81.21h6.4" stroke="#000" stroke-width="0.75"/>
<text x="43.4" y="84.41" font-size="11.6">2</text>
<text x="19.2" y="59.16" font-size="15.0" textLength="15.8" lengthAdjust="spacingAndGlyphs">10</text>
<path d="M35.8 50.46h6.4" stroke="#000" stroke-width="0.75"/>
<text x="43.4" y="53.66" font-size="11.6">1</text>
<text x="90.57" y="320.3" font-size="15.0" text-anchor="middle" textLength="15.3" lengthAdjust="spacingAndGlyphs">10</text>
<text x="193.80" y="320.3" font-size="15.0" text-anchor="middle" textLength="23.0" lengthAdjust="spacingAndGlyphs">100</text>
<text x="297.02" y="320.3" font-size="15.0" text-anchor="middle" textLength="30.6" lengthAdjust="spacingAndGlyphs">1000</text>
<text x="400.25" y="320.3" font-size="15.0" text-anchor="middle" textLength="38.2" lengthAdjust="spacingAndGlyphs">10000</text>
<text x="250.0" y="343.3" font-style="italic" font-size="16.2">O</text><text x="262.3" y="343.0" font-size="16">(</text><text x="267.0" y="343.3" font-style="italic" font-size="16.4">v</text><text x="276.4" y="343.0" font-size="16">)</text>
<g font-size="15.2"><text x="201.3" y="26.5" textLength="38.4" lengthAdjust="spacingAndGlyphs">Phase</text><text x="244.6" y="26.5" font-style="italic" font-size="14.6">C</text><text x="254.9" y="28.5" font-style="italic" font-size="11.2">b</text><text x="267.2" y="26.5">(</text><text x="273.0" y="26.5" textLength="11.6" lengthAdjust="spacingAndGlyphs">Δ</text><text x="305.3" y="26.5">0</text><text x="314.0" y="26.5">.</text><text x="317.2" y="26.5">2</text><text x="324.3" y="26.5">)</text></g>
<path d="M290.2 20.6h9.8M290.2 23.9h9.8" stroke="#111" stroke-width="0.7"/>
</g>
</svg></body></html>
